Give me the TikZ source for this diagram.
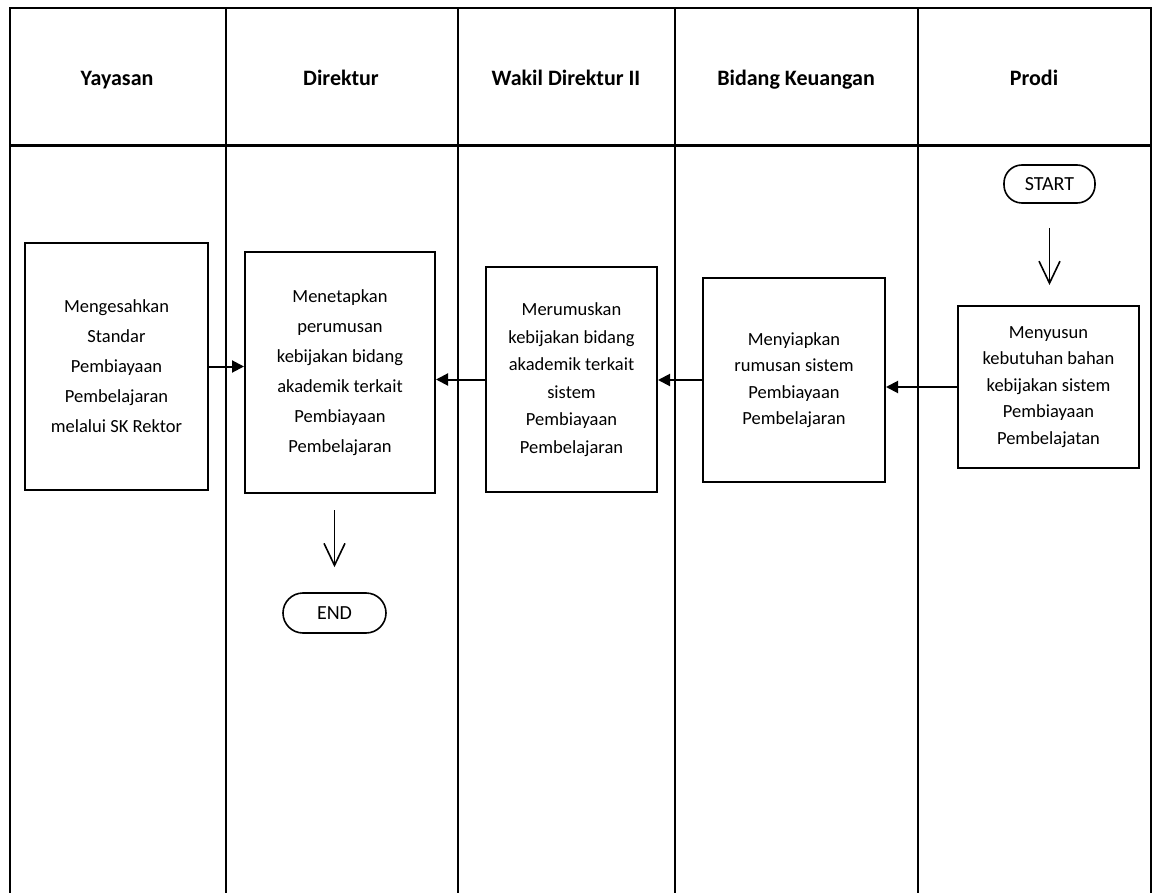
\documentclass[tikz,border=0pt]{standalone}
\usepackage{fontspec}
\setmainfont{Carlito}
\usetikzlibrary{arrows.meta}
\begin{document}
\begin{tikzpicture}[x=1pt,y=-1pt,
  lane/.style={line width=2pt},
  head/.style={anchor=base,font=\fontsize{22}{26}\selectfont\bfseries},
  procbox/.style={draw,line width=2pt,rectangle,align=center,inner sep=4pt,
    font=\fontsize{18.5}{30}\selectfont},
  term/.style={draw,line width=1.6pt,rounded corners=18pt,align=center,
    font=\fontsize{20}{22}\selectfont},
  flow/.style={line width=2pt,-{Triangle[length=12pt,width=12pt]}},
  down/.style={line width=1.6pt,-{Straight Barb[length=22pt,width=21pt,line width=1.6pt]}}]
\useasboundingbox (0,0) rectangle (1154,893);
% lanes
\draw[lane] (10,893) -- (10,8) -- (1151,8) -- (1151,893);
\foreach \x in {226,458,675,918} \draw[lane] (\x,8) -- (\x,893);
\draw[line width=3pt] (10,146) -- (1151,146);
% headers
\node[head] (h1) at (117,86) {Yayasan};
\node[head] (h2) at (341,86) {Direktur};
\node[head] (h3) at (566,86) {Wakil Direktur II};
\node[head] (h4) at (796,86) {Bidang Keuangan};
\node[head] (h5) at (1034,86) {Prodi};
% boxes
\node[procbox,minimum width=183pt,minimum height=247pt] (y1) at (116.5,366.5)
  {Mengesahkan\\Standar\\Pembiayaan\\Pembelajaran\\melalui SK Rektor};
\node[procbox,minimum width=190pt,minimum height=241pt] (d1) at (340,372.5)
  {Menetapkan\\perumusan\\kebijakan bidang\\akademik terkait\\Pembiayaan\\Pembelajaran};
\node[procbox,minimum width=171pt,minimum height=225pt,
  font=\fontsize{18.5}{27.5}\selectfont] (w1) at (571.5,379.5)
  {Merumuskan\\kebijakan bidang\\akademik terkait\\sistem\\Pembiayaan\\Pembelajaran};
\node[procbox,minimum width=182pt,minimum height=204pt,
  font=\fontsize{18.5}{26.5}\selectfont] (b1) at (794,380)
  {Menyiapkan\\rumusan sistem\\Pembiayaan\\Pembelajaran};
\node[procbox,minimum width=181pt,minimum height=162pt,
  font=\fontsize{18.5}{26.5}\selectfont] (p1) at (1048.5,387)
  {Menyusun\\kebutuhan bahan\\kebijakan sistem\\Pembiayaan\\Pembelajatan};
\node[term,minimum width=91pt,minimum height=38pt] (start) at (1049.5,184) {START};
\node[term,minimum width=103pt,minimum height=40pt,rounded corners=20pt] (end) at (334.5,613) {END};
% connectors
\draw[flow] (y1.east) -- (y1.east -| d1.west);
\draw[flow] (w1.west) -- (w1.west -| d1.east);
\draw[flow] (b1.west) -- (b1.west -| w1.east);
\draw[flow] (p1.west) -- (p1.west -| b1.east);
\draw[down] ([yshift=-24pt]start.south) -- ([yshift=20pt]start.south |- p1.north);
\draw[down] ([yshift=-16pt]d1.south -| end.north) -- ([yshift=25pt]end.north);
\end{tikzpicture}
\end{document}
